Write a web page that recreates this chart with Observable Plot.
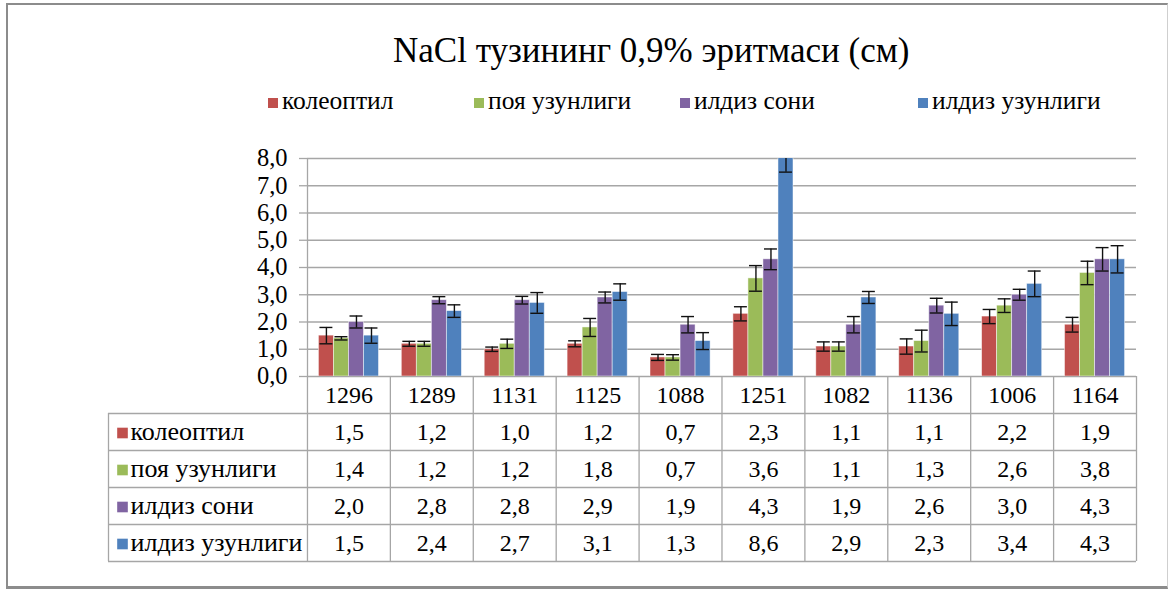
<!DOCTYPE html>
<html>
<head>
<meta charset="utf-8">
<script src="https://cdn.jsdelivr.net/npm/d3@7"></script>
<script src="https://cdn.jsdelivr.net/npm/@observablehq/plot@0.6"></script>
<style>
  html, body { margin: 0; padding: 0; background: #fff; }
  #root { position: relative; width: 1169px; height: 597px; overflow: hidden; color: #000; }
  #frame { position: absolute; left: 6px; top: 3px; width: 1162px; height: 586px; box-sizing: border-box;
           border-top: 2px solid #8c8c8c; border-left: 2px solid #8c8c8c; border-bottom: 3px solid #8c8c8c;
           border-right: 1px solid #cfcfcf; }
  #title { position: absolute; left: 393px; top: 31px; font-family: 'Liberation Serif'; font-size: 35px;
           line-height: 40px; white-space: nowrap; }
  .leg { position: absolute; top: 87px; font-family: 'Liberation Serif'; font-size: 25.5px; line-height: 28px; white-space: nowrap; }
  .leg i { display: inline-block; width: 10px; height: 10px; margin-right: 4px; vertical-align: 1px; }
  #bars { position: absolute; left: 0; top: 130px; }
  #table { position: absolute; left: 0; top: 370px; }
</style>
</head>
<body>
<div id="root">
  <div id="frame"></div>
  <div id="title"></div>
  <div id="legend"></div>
  <div id="bars"></div>
  <div id="table"></div>
</div>
<script>
// ---- data ----
const titleText = "NaCl тузининг 0,9% эритмаси (см)";
const categories = ["1296", "1289", "1131", "1125", "1088", "1251", "1082", "1136", "1006", "1164"];
const series = ["колеоптил", "поя узунлиги", "илдиз сони", "илдиз узунлиги"];
const koleoptil     = [1.5, 1.2, 1.0, 1.2, 0.7, 2.3, 1.1, 1.1, 2.2, 1.9];
const poyaUzunligi  = [1.4, 1.2, 1.2, 1.8, 0.7, 3.6, 1.1, 1.3, 2.6, 3.8];
const ildizSoni     = [2.0, 2.8, 2.8, 2.9, 1.9, 4.3, 1.9, 2.6, 3.0, 4.3];
const ildizUzunligi = [1.5, 2.4, 2.7, 3.1, 1.3, 8.6, 2.9, 2.3, 3.4, 4.3];
// error bar half-lengths
const errKoleoptil     = [0.30, 0.09, 0.08, 0.11, 0.11, 0.26, 0.17, 0.28, 0.26, 0.27];
const errPoyaUzunligi  = [0.06, 0.09, 0.17, 0.33, 0.10, 0.47, 0.17, 0.40, 0.25, 0.43];
const errIldizSoni     = [0.22, 0.13, 0.14, 0.20, 0.30, 0.38, 0.30, 0.27, 0.20, 0.43];
const errIldizUzunligi = [0.28, 0.23, 0.38, 0.30, 0.31, 1.10, 0.22, 0.43, 0.47, 0.50];
const yTicks = [0, 1, 2, 3, 4, 5, 6, 7, 8];

// ---- styling / layout ----
const colors = ["#C0504D", "#9BBB59", "#8064A2", "#4F81BD"];
const gridColor = "#a6a6a6";
const fontFamily = "Liberation Serif";
const fmt = v => v.toFixed(1).replace(".", ",");
const values = [koleoptil, poyaUzunligi, ildizSoni, ildizUzunligi];
const errors = [errKoleoptil, errPoyaUzunligi, errIldizSoni, errIldizUzunligi];
const groupFrac = 0.725;
const bw = groupFrac / series.length;
const pad = (1 - groupFrac) / 2;
const capHalf = 0.078;
const labelSpan = 2.4;

const rows = [];
series.forEach((s, j) => categories.forEach((c, i) =>
  rows.push({c, i, s, j, v: values[j][i], e: errors[j][i]})));

document.getElementById("title").textContent = titleText;

const legendLeft = [268, 474, 680, 918];
const legend = document.getElementById("legend");
series.forEach((s, j) => {
  const d = document.createElement("div");
  d.className = "leg";
  d.style.left = legendLeft[j] + "px";
  d.innerHTML = `<i style="background:${colors[j]}"></i>`;
  d.appendChild(document.createTextNode(s));
  legend.appendChild(d);
});

const bars = Plot.plot({
  width: 1169, height: 248,
  marginLeft: 307, marginRight: 33, marginTop: 28, marginBottom: 2,
  style: {fontFamily, fontSize: "24px", color: "#000", background: "transparent", overflow: "visible"},
  x: {domain: [0, categories.length], axis: null},
  y: {domain: [0, 8], axis: null},
  marks: [
    Plot.gridY(yTicks, {stroke: gridColor, strokeOpacity: 1, strokeWidth: 1.3}),
    Plot.axisY(yTicks, {tickSize: 8, tickPadding: 12, tickFormat: fmt, stroke: gridColor, strokeWidth: 1.3,
                        fill: "#000", fontSize: 24.5, fontFamily, label: null}),
    Plot.ruleX([0], {stroke: gridColor, strokeWidth: 1.3}),
    Plot.rectY(rows, {
      x1: d => d.i + pad + d.j * bw, x2: d => d.i + pad + (d.j + 1) * bw,
      y1: 0, y2: "v", fill: d => colors[d.j], stroke: "#ffffff", strokeOpacity: 0.6, strokeWidth: 0.8,
      clip: true
    }),
    Plot.ruleX(rows, {
      x: d => d.i + pad + (d.j + 0.5) * bw, y1: d => d.v - d.e, y2: d => d.v + d.e,
      stroke: "#111", strokeWidth: 1.4, clip: true
    }),
    Plot.ruleY(rows, {
      x1: d => d.i + pad + (d.j + 0.5) * bw - capHalf, x2: d => d.i + pad + (d.j + 0.5) * bw + capHalf,
      y: d => d.v + d.e, stroke: "#111", strokeWidth: 1.4, clip: true
    }),
    Plot.ruleY(rows, {
      x1: d => d.i + pad + (d.j + 0.5) * bw - capHalf, x2: d => d.i + pad + (d.j + 0.5) * bw + capHalf,
      y: d => d.v - d.e, stroke: "#111", strokeWidth: 1.4, clip: true
    })
  ]
});
document.getElementById("bars").appendChild(bars);

const nCol = categories.length, nRow = series.length + 1;
const table = Plot.plot({
  width: 1169, height: 200,
  marginLeft: 108, marginRight: 33, marginTop: 6, marginBottom: 9,
  style: {fontFamily, fontSize: "24px", color: "#000", background: "transparent", overflow: "visible"},
  x: {domain: [-labelSpan, nCol], axis: null},
  y: {domain: [0, nRow], axis: null, reverse: true},
  marks: [
    Plot.ruleY(d3.range(1, nRow + 1), {x1: -labelSpan, x2: nCol, stroke: gridColor, strokeWidth: 1.3}),
    Plot.ruleX(d3.range(0, nCol + 1), {y1: 0, y2: nRow, stroke: gridColor, strokeWidth: 1.3}),
    Plot.ruleX([-labelSpan], {y1: 1, y2: nRow, stroke: gridColor, strokeWidth: 1.3}),
    Plot.text(categories, {x: (d, i) => i + 0.5, y: 0.5, text: d => d, fill: "#000", fontFamily, fontSize: 24}),
    Plot.text(rows, {x: d => d.i + 0.5, y: d => d.j + 1.5, text: d => fmt(d.v), fill: "#000", fontFamily, fontSize: 24}),
    Plot.dot(series, {x: -labelSpan, y: (d, j) => j + 1.5, dx: 14, dy: 1, symbol: "square", r: 6,
                      fill: (d, j) => colors[j], stroke: null}),
    Plot.text(series, {x: -labelSpan, y: (d, j) => j + 1.5, dx: 22, text: d => d, textAnchor: "start",
                       fill: "#000", fontFamily, fontSize: 26})
  ]
});
document.getElementById("table").appendChild(table);
</script>
</body>
</html>
